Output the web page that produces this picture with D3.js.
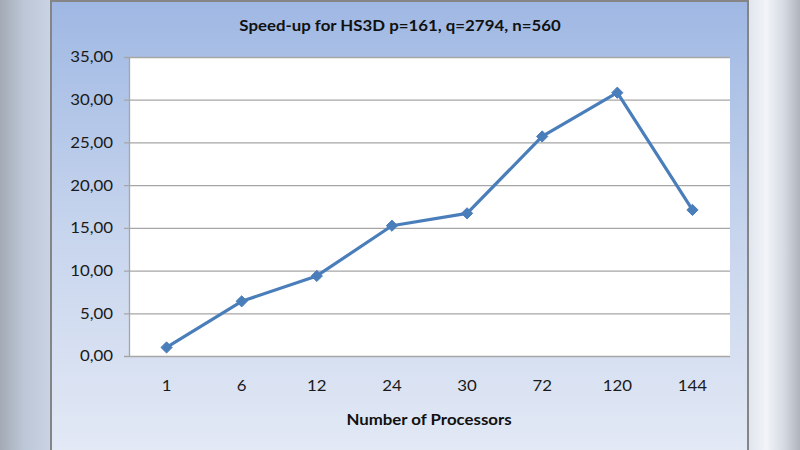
<!DOCTYPE html>
<html><head><meta charset="utf-8">
<script src="https://cdn.jsdelivr.net/npm/d3@7"></script>
<style>html,body{margin:0;padding:0;background:#fff;}svg{display:block;}</style>
</head><body>
<script>
const categories = ["1","6","12","24","30","72","120","144"];
const speedup = [1.0, 6.4, 9.37, 15.25, 16.7, 25.7, 30.82, 17.1];
const yTicks = [0,5,10,15,20,25,30,35];
const title = "Speed-up for HS3D p=161, q=2794, n=560";
const xTitle = "Number of Processors";

const W = 800, H = 450;
const svg = d3.select("body").append("svg").attr("width", W).attr("height", H);
const defs = svg.append("defs");

const gL = defs.append("linearGradient").attr("id","outL").attr("x1",0).attr("x2",1).attr("y1",0).attr("y2",0);
gL.append("stop").attr("offset","0%").attr("stop-color","#a3aab5");
gL.append("stop").attr("offset","45%").attr("stop-color","#bcc6d6");
gL.append("stop").attr("offset","100%").attr("stop-color","#c9d4e6");
const gR = defs.append("linearGradient").attr("id","outR").attr("x1",0).attr("x2",1).attr("y1",0).attr("y2",0);
gR.append("stop").attr("offset","0%").attr("stop-color","#dfe4ee");
gR.append("stop").attr("offset","35%").attr("stop-color","#f2f4f8");
gR.append("stop").attr("offset","70%").attr("stop-color","#d4d9e2");
gR.append("stop").attr("offset","100%").attr("stop-color","#aeb3bc");
const gC = defs.append("linearGradient").attr("id","chartBg").attr("x1",0).attr("x2",0).attr("y1",0).attr("y2",1);
gC.append("stop").attr("offset","0%").attr("stop-color","#9fb8e3");
gC.append("stop").attr("offset","50%").attr("stop-color","#c6d4ed");
gC.append("stop").attr("offset","100%").attr("stop-color","#e3e9f5");

svg.append("rect").attr("x",0).attr("y",0).attr("width",52).attr("height",H).attr("fill","url(#outL)");
svg.append("rect").attr("x",748).attr("y",0).attr("width",52).attr("height",H).attr("fill","url(#outR)");
svg.append("rect").attr("x",51).attr("y",1).attr("width",697).attr("height",452)
  .attr("fill","url(#chartBg)").attr("stroke","#858585").attr("stroke-width",2);

const plot = {l:129, r:730, t:57, b:356};
const x = d3.scaleBand().domain(categories).range([plot.l, plot.r]);
const y = d3.scaleLinear().domain([0,35]).range([plot.b, plot.t]);

svg.append("rect").attr("x",plot.l).attr("y",plot.t).attr("width",plot.r-plot.l).attr("height",plot.b-plot.t).attr("fill","#fff");

const font = "Lato, 'Open Sans', sans-serif";
const SX = 1.1;

// gridlines
svg.append("g").selectAll("line").data(yTicks).join("line")
  .attr("x1",plot.l-5).attr("x2",plot.r)
  .attr("y1",d=>y(d)+0.5).attr("y2",d=>y(d)+0.5)
  .attr("stroke", "#a6a6a6").attr("stroke-width",1.3);
// y axis line
svg.append("line").attr("x1",plot.l+0.5).attr("x2",plot.l+0.5).attr("y1",plot.t).attr("y2",plot.b)
  .attr("stroke","#a6a6a6").attr("stroke-width",1.3);

function txt(g, xx, yy, s, anchor, bold) {
  return g.append("text")
    .attr("transform", `translate(${xx},${yy}) scale(${SX},1)`)
    .attr("dy","0.35em").attr("text-anchor",anchor)
    .attr("font-family",font).attr("font-weight", bold ? "bold" : "normal")
    .attr("font-size",15.3).attr("fill", bold ? "#111" : "#1a1a1a")
    .text(s);
}

const gy = svg.append("g");
yTicks.forEach(d => txt(gy, 113, y(d), d3.format(".2f")(d).replace(".",","), "end", false));
const gx = svg.append("g");
categories.forEach(d => txt(gx, x(d)+x.bandwidth()/2, 386, d, "middle", false));

// line
const data = categories.map((c,i)=>({c, v:speedup[i]}));
const line = d3.line().x(d=>x(d.c)+x.bandwidth()/2).y(d=>y(d.v));
svg.append("path").datum(data).attr("d",line).attr("fill","none")
  .attr("stroke","#4a7ebb").attr("stroke-width",3.2).attr("stroke-linejoin","round");
svg.append("g").selectAll("path").data(data).join("path")
  .attr("transform",d=>`translate(${x(d.c)+x.bandwidth()/2},${y(d.v)})`)
  .attr("d", d3.symbol(d3.symbolDiamond2, 80)())
  .attr("fill","#4a7ebb").attr("stroke","#4a7ebb").attr("stroke-width",1);

// titles
const gt = svg.append("g");
txt(gt, 400, 26, title, "middle", true);
txt(gt, 429, 420, xTitle, "middle", true);
</script>
</body></html>
